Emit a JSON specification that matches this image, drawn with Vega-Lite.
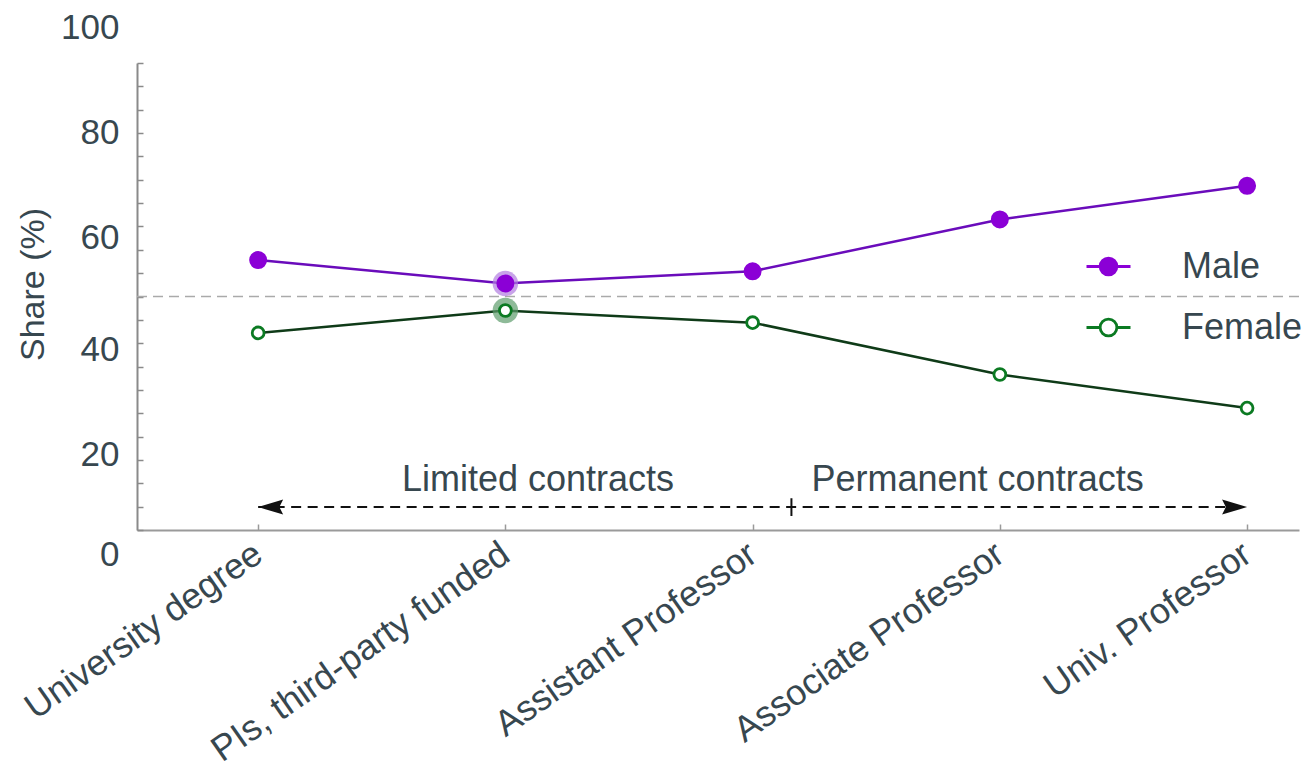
{
  "$schema": "https://vega.github.io/schema/vega-lite/v6.json",
  "width": 1162,
  "height": 467,
  "autosize": {"type": "none"},
  "padding": {"left": 137, "top": 63, "right": 5, "bottom": 239},
  "background": "white",
  "config": {
    "view": {"stroke": null},
    "font": "Liberation Sans",
    "axis": {"labelFont": "Liberation Sans", "titleFont": "Liberation Sans"},
    "legend": {"labelFont": "Liberation Sans"}
  },
  "layer": [
    {
      "data": {"values": [{"share": 50}]},
      "mark": {"type": "rule", "stroke": "#aaaaaa", "strokeDash": [10, 6], "strokeWidth": 1.5},
      "encoding": {
        "y": {"field": "share", "type": "quantitative", "scale": {"domain": [0, 100], "nice": false}, "axis": null}
      }
    },
    {
      "data": {
        "values": [
          {"stage": "University degree", "sex": "Male", "share": 57.8, "highlight": false},
          {"stage": "PIs, third-party funded", "sex": "Male", "share": 52.8, "highlight": true},
          {"stage": "Assistant Professor", "sex": "Male", "share": 55.4, "highlight": false},
          {"stage": "Associate Professor", "sex": "Male", "share": 66.5, "highlight": false},
          {"stage": "Univ. Professor", "sex": "Male", "share": 73.7, "highlight": false},
          {"stage": "University degree", "sex": "Female", "share": 42.2, "highlight": false},
          {"stage": "PIs, third-party funded", "sex": "Female", "share": 47.0, "highlight": true},
          {"stage": "Assistant Professor", "sex": "Female", "share": 44.4, "highlight": false},
          {"stage": "Associate Professor", "sex": "Female", "share": 33.3, "highlight": false},
          {"stage": "Univ. Professor", "sex": "Female", "share": 26.1, "highlight": false}
        ]
      },
      "encoding": {
        "x": {
          "field": "stage",
          "type": "ordinal",
          "sort": ["University degree", "PIs, third-party funded", "Assistant Professor", "Associate Professor", "Univ. Professor"],
          "scale": {"type": "point", "padding": 0.35, "align": 0.7},
          "axis": {
            "title": null,
            "domainColor": "#9a9a9a",
            "domainWidth": 2,
            "tickColor": "#9a9a9a",
            "tickWidth": 1.5,
            "tickSize": -6,
            "labelAngle": -35,
            "labelAlign": "right",
            "labelBaseline": "middle",
            "labelPadding": 26,
            "labelFontSize": 36,
            "labelLimit": 600,
            "labelColor": "#37474f",
            "grid": false
          }
        },
        "y": {
          "field": "share",
          "type": "quantitative",
          "scale": {"domain": [0, 100], "nice": false},
          "axis": {
            "title": "Share (%)",
            "titleFontSize": 34,
            "titleFontWeight": "normal",
            "titleColor": "#37474f",
            "titlePadding": 10,
            "titleY": 221,
            "values": [0, 5, 10, 15, 20, 25, 30, 35, 40, 45, 50, 55, 60, 65, 70, 75, 80, 85, 90, 95, 100],
            "labelExpr": "datum.value % 20 === 0 ? datum.label : ''",
            "domainColor": "#8a8a8a",
            "domainWidth": 2,
            "tickColor": "#8a8a8a",
            "tickWidth": 1.5,
            "tickSize": -6,
            "labelFontSize": 35,
            "labelColor": "#37474f",
            "labelPadding": 24,
            "labelOffset": {
              "condition": [
                {"test": "datum.value === 0", "value": 24},
                {"test": "datum.value === 20", "value": 18},
                {"test": "datum.value === 40", "value": 6},
                {"test": "datum.value === 60", "value": -12},
                {"test": "datum.value === 80", "value": -24},
                {"test": "datum.value === 100", "value": -36}
              ],
              "value": 0
            },
            "grid": false
          }
        }
      },
      "layer": [
        {
          "mark": {"type": "line", "strokeWidth": 2.5},
          "encoding": {
            "stroke": {
              "field": "sex",
              "type": "nominal",
              "scale": {"domain": ["Male", "Female"], "range": ["#6a0cbb", "#0f3b18"]},
              "legend": null
            }
          }
        },
        {
          "transform": [{"filter": "datum.highlight"}],
          "mark": {"type": "circle", "size": 650, "opacity": 0.7},
          "encoding": {
            "fill": {
              "field": "sex",
              "type": "nominal",
              "scale": {"domain": ["Male", "Female"], "range": ["#b07ce0", "#5e9d6c"]},
              "legend": null
            }
          }
        },
        {
          "mark": {"type": "point", "shape": "circle", "filled": false, "strokeWidth": 2.8, "opacity": 1},
          "encoding": {
            "fill": {
              "field": "sex",
              "type": "nominal",
              "scale": {"domain": ["Male", "Female"], "range": ["#8b00d6", "#ffffff"]},
              "legend": {
                "title": null,
                "orient": "none",
                "legendX": 948,
                "legendY": 180,
                "symbolType": "M-1,0L-0.38,0M0.38,0L1,0M-0.38,0A0.38,0.38,0,1,0,0.38,0A0.38,0.38,0,1,0,-0.38,0Z",
                "symbolSize": 1936,
                "symbolStrokeWidth": 2.8,
                "labelFontSize": 36,
                "labelColor": "#37474f",
                "labelOffset": 50,
                "rowPadding": 19
              }
            },
            "stroke": {
              "field": "sex",
              "type": "nominal",
              "scale": {"domain": ["Male", "Female"], "range": ["#8b00d6", "#0b7a22"]},
              "legend": {
                "title": null,
                "orient": "none",
                "legendX": 948,
                "legendY": 180,
                "symbolType": "M-1,0L-0.38,0M0.38,0L1,0M-0.38,0A0.38,0.38,0,1,0,0.38,0A0.38,0.38,0,1,0,-0.38,0Z",
                "symbolSize": 1936,
                "symbolStrokeWidth": 2.8,
                "labelFontSize": 36,
                "labelColor": "#37474f",
                "labelOffset": 50,
                "rowPadding": 19
              }
            },
            "size": {"condition": {"test": "datum.sex === 'Male'", "value": 230}, "value": 140}
          }
        }
      ],
      "resolve": {"scale": {"fill": "independent", "stroke": "independent"}}
    },
    {
      "encoding": {
        "x": {"field": "pos", "type": "quantitative", "scale": {"domain": [-0.49, 4.21], "nice": false, "zero": false}, "axis": null},
        "y": {"field": "level", "type": "quantitative", "scale": {"domain": [0, 100], "nice": false}, "axis": null}
      },
      "layer": [
        {
          "data": {"values": [{"pos": 0, "pos2": 4, "level": 4.9}]},
          "mark": {"type": "rule", "stroke": "#111111", "strokeWidth": 2, "strokeDash": [10, 6.5]},
          "encoding": {"x2": {"field": "pos2"}}
        },
        {
          "data": {"values": [{"pos": 2.157, "level": 3.0, "level2": 6.8}]},
          "mark": {"type": "rule", "stroke": "#111111", "strokeWidth": 2},
          "encoding": {"y2": {"field": "level2"}}
        },
        {
          "data": {"values": [{"pos": 0, "level": 4.9, "end": "start"}, {"pos": 4, "level": 4.9, "end": "finish"}]},
          "mark": {"type": "point", "filled": true, "opacity": 1, "fill": "#111111", "strokeWidth": 0},
          "encoding": {
            "shape": {
              "field": "end",
              "type": "nominal",
              "scale": {"domain": ["start", "finish"], "range": ["M0,0L1,-0.3L0.85,0L1,0.3Z", "M0,0L-1,-0.3L-0.85,0L-1,0.3Z"]},
              "legend": null
            },
            "size": {"value": 2500}
          }
        },
        {
          "data": {"values": [{"pos": 1.132, "level": 8.35, "label": "Limited contracts"}, {"pos": 2.91, "level": 8.35, "label": "Permanent contracts"}]},
          "mark": {"type": "text", "fontSize": 36, "font": "Liberation Sans", "fill": "#37474f", "align": "center", "baseline": "alphabetic"},
          "encoding": {"text": {"field": "label"}}
        }
      ]
    }
  ],
  "resolve": {"scale": {"x": "independent"}, "axis": {"y": "independent"}}
}
